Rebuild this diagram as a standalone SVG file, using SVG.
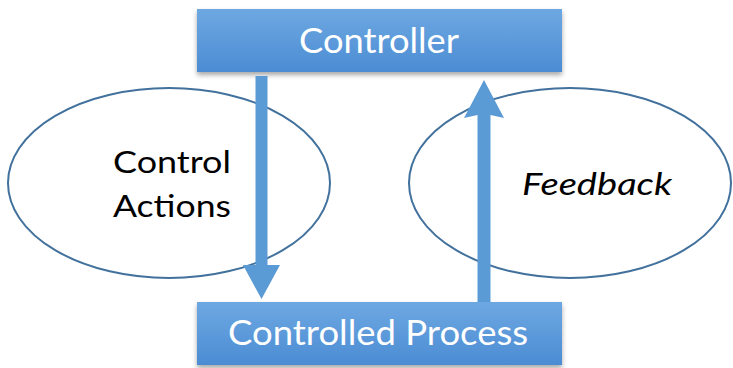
<svg xmlns="http://www.w3.org/2000/svg" width="733" height="368" viewBox="0 0 733 368">
  <defs>
    <linearGradient id="boxFill" x1="0" y1="0" x2="0" y2="1">
      <stop offset="0" stop-color="#6ea8e2"/>
      <stop offset="1" stop-color="#4b8cd3"/>
    </linearGradient>
    <filter id="shadow" x="-5%" y="-20%" width="110%" height="150%">
      <feGaussianBlur in="SourceAlpha" stdDeviation="2.5"/>
      <feOffset dx="0" dy="3" result="b"/>
      <feComponentTransfer><feFuncA type="linear" slope="0.35"/></feComponentTransfer>
      <feMerge><feMergeNode/><feMergeNode in="SourceGraphic"/></feMerge>
    </filter>
  </defs>
  <style>
    .box { fill: url(#boxFill); filter: url(#shadow); }
    .oval { fill: #ffffff; stroke: #41719c; stroke-width: 2; }
    .boxText { fill: #ffffff; font-family: Lato, "Open Sans", sans-serif; font-size: 35px; }
    .label { fill: #000000; font-family: Lato, "Open Sans", sans-serif; font-size: 30px; }
    .flow { fill: #5b9bd5; }
  </style>
  <rect width="733" height="368" fill="#ffffff"/>

  <g id="control-actions">
    <ellipse class="oval" cx="169" cy="183" rx="161" ry="95"/>
    <text class="label" x="172" y="173" text-anchor="middle" textLength="118" lengthAdjust="spacingAndGlyphs">Control</text>
    <text class="label" x="172" y="217" text-anchor="middle" textLength="118" lengthAdjust="spacingAndGlyphs">Actions</text>
  </g>

  <g id="feedback">
    <ellipse class="oval" cx="570" cy="183" rx="161" ry="95"/>
    <text class="label" x="597" y="195" text-anchor="middle" font-style="italic" textLength="150" lengthAdjust="spacingAndGlyphs">Feedback</text>
  </g>

  <g id="controller">
    <rect class="box" x="197" y="9" width="365" height="63"/>
    <text class="boxText" x="379" y="53" text-anchor="middle" textLength="160" lengthAdjust="spacingAndGlyphs">Controller</text>
  </g>

  <g id="controlled-process">
    <rect class="box" x="197" y="302" width="365" height="63"/>
    <text class="boxText" x="378" y="345" text-anchor="middle" textLength="300" lengthAdjust="spacingAndGlyphs">Controlled Process</text>
  </g>

  <g id="connectors">
    <!-- control action: controller down to process -->
    <polygon class="flow" points="255.5,76 267.5,76 267.5,265 280,265 261.5,299 243,265 255.5,265"/>
    <!-- feedback: process up to controller -->
    <polygon class="flow" points="477.5,302 490.5,302 490.5,115 504,118 484,80 464,118 477.5,115"/>
  </g>
</svg>
